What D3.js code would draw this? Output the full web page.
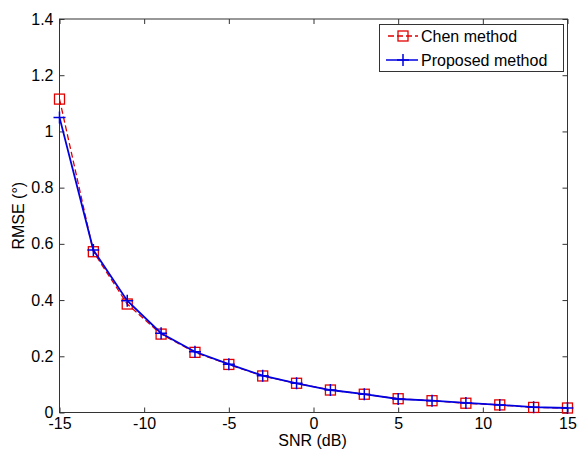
<!DOCTYPE html>
<html><head><meta charset="utf-8">
<script src="https://cdn.jsdelivr.net/npm/d3@7"></script>
<style>body{margin:0;background:#fff}svg{display:block}text{font-family:"Liberation Sans",Arial,sans-serif}</style>
</head><body>
<svg id="c" width="579" height="452"></svg>
<script>
const snr = [-15,-13,-11,-9,-7,-5,-3,-1,1,3,5,7,9,11,13,15];
const chen = [1.115,0.572,0.386,0.279,0.214,0.171,0.130,0.104,0.080,0.065,0.049,0.042,0.033,0.027,0.018,0.016];
const proposed = [1.050,0.578,0.398,0.282,0.216,0.172,0.131,0.104,0.080,0.065,0.048,0.042,0.034,0.027,0.019,0.016];
const xTicks = [-15,-10,-5,0,5,10,15];
const yTicks = [0,0.2,0.4,0.6,0.8,1,1.2,1.4];
const seriesNames = ["Chen method","Proposed method"];

const svg = d3.select("#c");
const L=59.5, R=567.5, T=19, B=412.5;
const x = d3.scaleLinear().domain([-15,15]).range([L,R]);
const y = d3.scaleLinear().domain([0,1.4]).range([B,T]);
const axCol = "#333";

svg.append("rect").attr("x",L).attr("y",T).attr("width",R-L).attr("height",B-T)
  .attr("fill","none").attr("stroke",axCol).attr("stroke-width",1);

function styleAxis(g){g.select(".domain").remove();g.selectAll("line").attr("stroke",axCol);
  g.selectAll("text").attr("fill","#000").style("font-size","16px");}

svg.append("g").attr("transform",`translate(0,${B})`)
  .call(d3.axisBottom(x).tickValues(xTicks).tickSize(-5).tickPadding(5.5).tickFormat(d=>String(d)))
  .call(styleAxis);
svg.append("g").attr("transform",`translate(0,${T})`)
  .call(d3.axisTop(x).tickValues(xTicks).tickSize(-5).tickFormat(""))
  .call(styleAxis);
svg.append("g").attr("transform",`translate(${L},0)`)
  .call(d3.axisLeft(y).tickValues(yTicks).tickSize(-5).tickPadding(6).tickFormat(d=>String(+d.toFixed(1))))
  .call(styleAxis);
svg.append("g").attr("transform",`translate(${R},0)`)
  .call(d3.axisRight(y).tickValues(yTicks).tickSize(-5).tickFormat(""))
  .call(styleAxis);

svg.append("text").attr("x",312.5).attr("y",446).attr("text-anchor","middle")
  .style("font-size","16px").text("SNR (dB)");
svg.append("text").attr("transform",`translate(24,${(T+B)/2}) rotate(-90)`).attr("text-anchor","middle")
  .style("font-size","16px").text("RMSE (°)");

const line = d3.line().x((d,i)=>x(snr[i])).y(d=>y(d));
svg.append("path").datum(chen).attr("d",line).attr("fill","none").attr("stroke","#e00000")
  .attr("stroke-width",1.3).attr("stroke-dasharray","6,3");
svg.append("g").selectAll("rect").data(chen).join("rect")
  .attr("x",(d,i)=>x(snr[i])-5).attr("y",d=>y(d)-5).attr("width",10).attr("height",10)
  .attr("fill","none").attr("stroke","#e00000").attr("stroke-width",1.3);
svg.append("path").datum(proposed).attr("d",line).attr("fill","none").attr("stroke","#0000e0")
  .attr("stroke-width",1.8);
svg.append("g").selectAll("path").data(proposed).join("path")
  .attr("d",(d,i)=>{const cx=x(snr[i]),cy=y(d);return `M${cx-6},${cy}H${cx+6}M${cx},${cy-6}V${cy+6}`;})
  .attr("fill","none").attr("stroke","#0000e0").attr("stroke-width",1.5);

const lg = svg.append("g");
lg.append("rect").attr("x",379.5).attr("y",24.5).attr("width",184).attr("height",47)
  .attr("fill","#fff").attr("stroke",axCol).attr("stroke-width",1);
const ly=[36,60];
lg.append("line").attr("x1",388).attr("x2",418).attr("y1",ly[0]).attr("y2",ly[0])
  .attr("stroke","#e00000").attr("stroke-width",1.3).attr("stroke-dasharray","6,3");
lg.append("rect").attr("x",398).attr("y",ly[0]-5).attr("width",10).attr("height",10)
  .attr("fill","none").attr("stroke","#e00000").attr("stroke-width",1.3);
lg.append("line").attr("x1",386).attr("x2",418).attr("y1",ly[1]).attr("y2",ly[1])
  .attr("stroke","#0000e0").attr("stroke-width",1.5);
lg.append("path").attr("d",`M397,${ly[1]}H409M403,${ly[1]-6}V${ly[1]+6}`)
  .attr("stroke","#0000e0").attr("stroke-width",1.5);
seriesNames.forEach((n,i)=>lg.append("text").attr("x",421).attr("y",ly[i]+6)
  .style("font-size","16px").text(n));
</script>
</body></html>
